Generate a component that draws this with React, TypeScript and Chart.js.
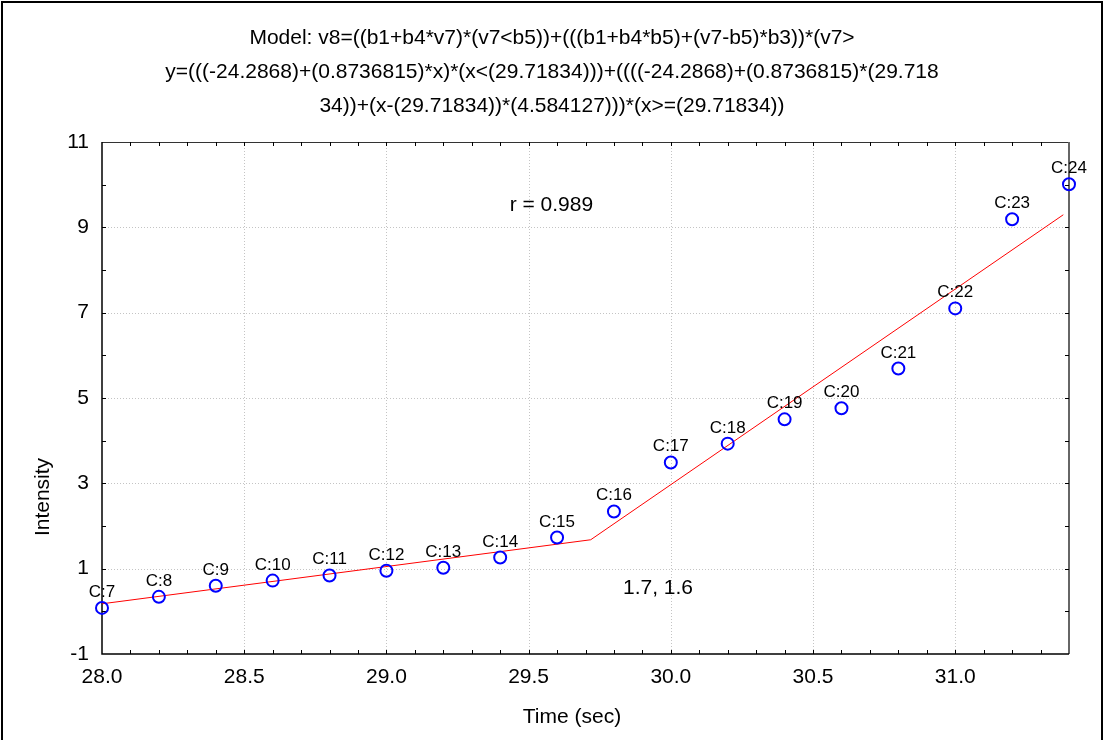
import React, { useEffect, useRef } from 'react';
import { Chart, registerables } from 'chart.js';

Chart.register(...registerables);

const timeValues = [28.0, 28.2, 28.4, 28.6, 28.8, 29.0, 29.2, 29.4, 29.6, 29.8, 30.0, 30.2, 30.4, 30.6, 30.8, 31.0, 31.2, 31.4];
const intensityValues = [0.08, 0.34, 0.6, 0.72, 0.84, 0.95, 1.02, 1.26, 1.73, 2.34, 3.49, 3.93, 4.5, 4.76, 5.69, 7.1, 9.19, 10.01];
const caseLabels = ['C:7', 'C:8', 'C:9', 'C:10', 'C:11', 'C:12', 'C:13', 'C:14', 'C:15', 'C:16', 'C:17', 'C:18', 'C:19', 'C:20', 'C:21', 'C:22', 'C:23', 'C:24'];

// piecewise model parameters (from the title)
const B1 = -24.2868;
const B4 = 0.8736815;
const B5 = 29.71834;
const B3 = 4.584127;
const fitTimes = [28.0, B5, 31.38];

const xTickValues = [28.0, 28.5, 29.0, 29.5, 30.0, 30.5, 31.0];
const yTickValues = [-1, 1, 3, 5, 7, 9, 11];
const xMinorStep = 0.1;
const yMinorStep = 1;

const titleLines = [
  'Model: v8=((b1+b4*v7)*(v7<b5))+(((b1+b4*b5)+(v7-b5)*b3))*(v7>',
  'y=(((-24.2868)+(0.8736815)*x)*(x<(29.71834)))+((((-24.2868)+(0.8736815)*(29.718',
  '34))+(x-(29.71834))*(4.584127)))*(x>=(29.71834))',
];
const xAxisTitle = 'Time (sec)';
const yAxisTitle = 'Intensity';
const rText = 'r = 0.989';
const rPos = [29.58, 9.52];
const breakText = '1.7, 1.6';
const breakPos = [29.955, 0.55];

const FONT = '"Liberation Sans", Arial, sans-serif';

function model(x: number): number {
  if (x < B5) return B1 + B4 * x;
  return B1 + B4 * B5 + (x - B5) * B3;
}

const W = 1104;
const H = 740;
const PLOT_LEFT = 102;
const PLOT_RIGHT = 1069;
const PLOT_TOP = 142;
const PLOT_BOTTOM = 654;

const decorPlugin = {
  id: 'decor',
  beforeDatasetsDraw(chart: any) {
    const ctx = chart.ctx;
    const xs = chart.scales.x;
    const ys = chart.scales.y;
    const { left, right, top, bottom } = chart.chartArea;
    ctx.save();
    // dotted grid
    ctx.strokeStyle = '#c4c4c4';
    ctx.lineWidth = 1;
    ctx.setLineDash([1, 2]);
    xTickValues.forEach((v) => {
      const px = Math.round(xs.getPixelForValue(v)) + 0.5;
      if (px <= left + 1 || px >= right - 1) return;
      ctx.beginPath();
      ctx.moveTo(px, top);
      ctx.lineTo(px, bottom);
      ctx.stroke();
    });
    yTickValues.forEach((v) => {
      const py = Math.round(ys.getPixelForValue(v)) + 0.5;
      if (py <= top + 1 || py >= bottom - 1) return;
      ctx.beginPath();
      ctx.moveTo(left, py);
      ctx.lineTo(right, py);
      ctx.stroke();
    });
    ctx.setLineDash([]);

    // frame of plot
    ctx.lineWidth = 1;
    ctx.strokeStyle = '#333';
    ctx.beginPath();
    ctx.moveTo(left, top + 0.5);
    ctx.lineTo(right, top + 0.5);
    ctx.stroke();
    ctx.strokeStyle = '#666';
    ctx.lineWidth = 2;
    ctx.beginPath();
    ctx.moveTo(right, top);
    ctx.lineTo(right, bottom);
    ctx.stroke();
    ctx.strokeStyle = '#000';
    ctx.lineWidth = 1.5;
    ctx.beginPath();
    ctx.moveTo(left, top);
    ctx.lineTo(left, bottom);
    ctx.lineTo(right, bottom);
    ctx.stroke();

    // minor ticks
    ctx.lineWidth = 1;
    ctx.strokeStyle = '#000';
    const tl = 4;
    const xMin = xs.min;
    const xMax = xs.max;
    for (let i = 1; xMin + i * xMinorStep < xMax - 1e-6; i++) {
      const v = xMin + i * xMinorStep;
      const px = Math.round(xs.getPixelForValue(v)) + 0.5;
      ctx.beginPath();
      ctx.moveTo(px, bottom);
      ctx.lineTo(px, bottom - tl);
      ctx.moveTo(px, top);
      ctx.lineTo(px, top + tl);
      ctx.stroke();
    }
    for (let v = ys.min + yMinorStep; v < ys.max - 1e-6; v += yMinorStep) {
      const py = Math.round(ys.getPixelForValue(v)) + 0.5;
      ctx.beginPath();
      ctx.moveTo(left, py);
      ctx.lineTo(left + tl, py);
      ctx.moveTo(right, py);
      ctx.lineTo(right - tl, py);
      ctx.stroke();
    }
    ctx.restore();
  },
  afterDatasetsDraw(chart: any) {
    const ctx = chart.ctx;
    const xs = chart.scales.x;
    const ys = chart.scales.y;
    ctx.save();
    ctx.fillStyle = '#000';
    // point labels
    ctx.font = `17px ${FONT}`;
    ctx.textAlign = 'center';
    ctx.textBaseline = 'alphabetic';
    const meta = chart.getDatasetMeta(0);
    meta.data.forEach((el: any, i: number) => {
      ctx.fillText(caseLabels[i], el.x, el.y - 11);
    });
    // annotations
    ctx.font = `21px ${FONT}`;
    ctx.textBaseline = 'middle';
    ctx.fillText(rText, xs.getPixelForValue(rPos[0]), ys.getPixelForValue(rPos[1]));
    ctx.fillText(breakText, xs.getPixelForValue(breakPos[0]), ys.getPixelForValue(breakPos[1]));
    // titles
    const tx = W / 2;
    titleLines.forEach((line, i) => {
      ctx.fillText(line, tx, 38 + i * 34);
    });
    ctx.fillText(xAxisTitle, 572, 717);
    ctx.save();
    ctx.translate(43, 497);
    ctx.rotate(-Math.PI / 2);
    ctx.fillText(yAxisTitle, 0, 0);
    ctx.restore();
    // outer frame
    ctx.strokeStyle = '#000';
    ctx.lineWidth = 2;
    ctx.beginPath();
    ctx.moveTo(2, H);
    ctx.lineTo(2, 2);
    ctx.lineTo(W - 2, 2);
    ctx.lineTo(W - 2, H);
    ctx.stroke();
    ctx.restore();
  },
};

export default function App() {
  const canvasRef = useRef<HTMLCanvasElement | null>(null);

  useEffect(() => {
    const canvas = canvasRef.current;
    if (!canvas) return;
    const pointData = timeValues.map((x, i) => ({ x, y: intensityValues[i] }));
    const fitData = fitTimes.map((x) => ({ x, y: model(x) }));
    const chart = new Chart(canvas, {
      type: 'scatter',
      data: {
        datasets: [
          {
            label: 'Intensity',
            data: pointData,
            showLine: false,
            pointStyle: 'circle',
            pointRadius: 6,
            pointHoverRadius: 6,
            pointBorderWidth: 2,
            pointBorderColor: '#0000ff',
            pointBackgroundColor: 'rgba(0,0,0,0)',
            clip: false,
          } as any,
          {
            label: 'Fit',
            data: fitData,
            showLine: true,
            borderColor: '#ff0000',
            borderWidth: 1,
            pointRadius: 0,
            fill: false,
            clip: false,
          } as any,
        ],
      },
      options: {
        responsive: false,
        animation: false,
        events: [],
        layout: { padding: { left: 0, right: W - PLOT_RIGHT, top: PLOT_TOP, bottom: 0 } },
        plugins: {
          legend: { display: false },
          tooltip: { enabled: false },
          title: { display: false },
        },
        scales: {
          x: {
            type: 'linear',
            min: 28.0,
            max: 31.4,
            grid: { display: false, drawTicks: false },
            border: { display: false },
            afterBuildTicks: (scale: any) => {
              scale.ticks = xTickValues.map((v) => ({ value: v }));
            },
            afterFit: (scale: any) => {
              scale.height = H - PLOT_BOTTOM;
            },
            ticks: {
              autoSkip: false,
              maxRotation: 0,
              padding: 11,
              color: '#000',
              font: { family: FONT, size: 21 },
              callback: (v: any) => Number(v).toFixed(1),
            },
          },
          y: {
            type: 'linear',
            min: -1,
            max: 11,
            grid: { display: false, drawTicks: false },
            border: { display: false },
            afterBuildTicks: (scale: any) => {
              scale.ticks = yTickValues.map((v) => ({ value: v }));
            },
            afterFit: (scale: any) => {
              scale.width = PLOT_LEFT;
            },
            ticks: {
              autoSkip: false,
              padding: 13,
              color: '#000',
              font: { family: FONT, size: 21 },
              callback: (v: any) => String(v),
            },
          },
        },
      },
      plugins: [decorPlugin],
    });
    return () => chart.destroy();
  }, []);

  return (
    <div style={{ position: 'fixed', left: 0, top: 0, width: W, height: H, background: '#fff' }}>
      <canvas ref={canvasRef} width={W} height={H} style={{ display: 'block', width: W, height: H }} />
    </div>
  );
}
